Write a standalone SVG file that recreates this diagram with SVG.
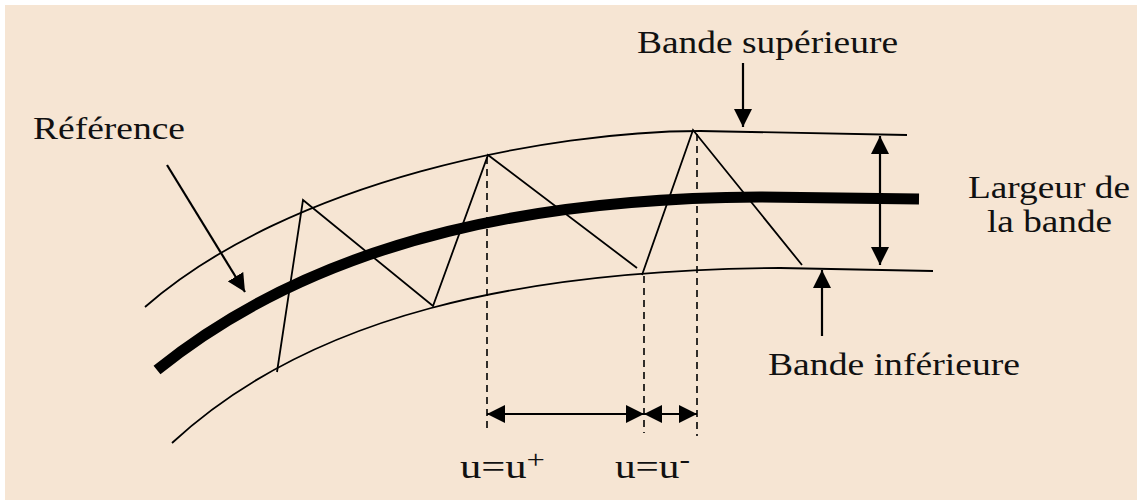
<svg xmlns="http://www.w3.org/2000/svg" width="1137" height="500" viewBox="0 0 1137 500">
<defs>
<marker id="ah" markerUnits="userSpaceOnUse" markerWidth="18" markerHeight="18" refX="17" refY="8.5" orient="auto-start-reverse" viewBox="0 0 17 17">
<path d="M0,0 L17,8.5 L0,17 z" fill="#000"/>
</marker>
<style>
.thin{fill:none;stroke:#000;stroke-width:1.8}
.dash{fill:none;stroke:#000;stroke-width:1.6;stroke-dasharray:7 5}
.arr{fill:none;stroke:#000;stroke-width:2.2}
.lbl{fill:#111;font-family:Liberation Serif, Times New Roman, Times, serif}
</style>
</defs>
<rect x="0" y="0" width="1137" height="500" fill="#fff"/>
<rect x="5" y="5" width="1132" height="495" fill="#F6E5D3"/>
<g id="bands">
<path id="upper" class="thin" d="M145,307 C290,180 550,131 700,131 L907,135"/>
<path id="lower" class="thin" d="M172,443 C310,315 520,270 780,268 L933,271"/>
<path id="reference" fill="none" stroke="#000" stroke-width="11" d="M157,370 C330,230 560,198 760,197 L919,199"/>
</g>
<g id="zigzag">
<polyline class="thin" points="277,372 303,200 433,306 488,155 637,268"/>
<polyline class="thin" points="642,275 693,130 802,265"/>
</g>
<g id="guides">
<line class="dash" x1="487" y1="157" x2="487" y2="430"/>
<line class="dash" x1="644" y1="276" x2="644" y2="433"/>
<line class="dash" x1="697" y1="134" x2="697" y2="436"/>
</g>
<g id="connectors">
<line class="arr" x1="167" y1="165" x2="245" y2="292" marker-end="url(#ah)"/>
<line class="arr" x1="743" y1="63" x2="743" y2="127" marker-end="url(#ah)"/>
<line class="arr" x1="822" y1="336" x2="822" y2="270" marker-end="url(#ah)"/>
<line class="arr" x1="880" y1="136" x2="880" y2="265" marker-start="url(#ah)" marker-end="url(#ah)"/>
<line class="arr" x1="487" y1="414" x2="644" y2="414" marker-start="url(#ah)" marker-end="url(#ah)"/>
<line class="arr" x1="644" y1="414" x2="697" y2="414" marker-start="url(#ah)" marker-end="url(#ah)"/>
</g>
<g font-size="32">
<g id="label-reference"><text class="lbl" x="33" y="139" textLength="152" lengthAdjust="spacingAndGlyphs">Référence</text></g>
<g id="label-sup"><text class="lbl" x="637" y="53" textLength="261" lengthAdjust="spacingAndGlyphs">Bande supérieure</text></g>
<g id="label-largeur">
<text class="lbl" x="968" y="198" textLength="162" lengthAdjust="spacingAndGlyphs">Largeur de</text>
<text class="lbl" x="987" y="232" textLength="125" lengthAdjust="spacingAndGlyphs">la bande</text>
</g>
<g id="label-inf"><text class="lbl" x="768" y="375" textLength="252" lengthAdjust="spacingAndGlyphs">Bande inférieure</text></g>
<g id="label-uplus"><text class="lbl" x="460" y="478" font-size="34" textLength="85" lengthAdjust="spacingAndGlyphs">u=u<tspan dy="-10" font-size="26">+</tspan></text></g>
<g id="label-uminus"><text class="lbl" x="615" y="478" font-size="34" textLength="75" lengthAdjust="spacingAndGlyphs">u=u<tspan dy="-10" font-size="26">-</tspan></text></g>
</g>
</svg>
